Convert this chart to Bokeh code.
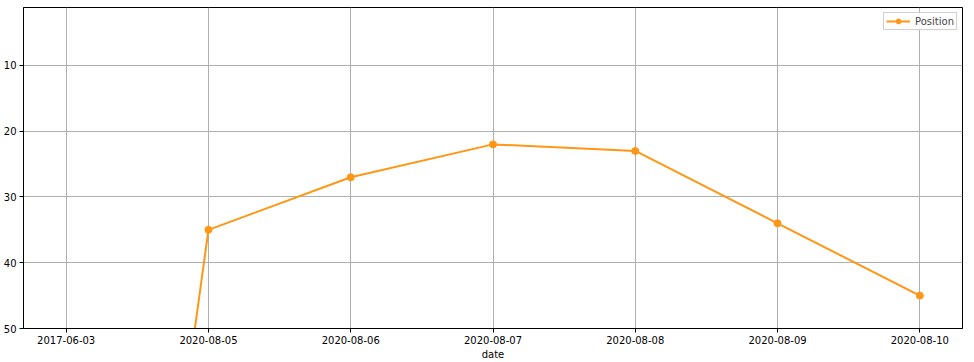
from bokeh.plotting import figure
from bokeh.models import Range1d, FixedTicker, Legend, LegendItem
from bokeh.embed import file_html
from bokeh.resources import INLINE

dates = ["2017-06-03", "2020-08-05", "2020-08-06", "2020-08-07",
         "2020-08-08", "2020-08-09", "2020-08-10"]
positions = [192, 35, 27, 22, 23, 34, 45]
y_ticks = [10, 20, 30, 40, 50]

xs = list(range(len(dates)))
color = "#ff9614"
FONT = "DejaVu Sans"

p = figure(width=974, height=362, output_backend="svg", toolbar_location=None,
           frame_width=939, frame_height=321,
           min_border_left=23, min_border_right=12, min_border_top=7, min_border_bottom=34,
           x_range=Range1d(-0.3, len(dates) - 1 + 0.3),
           y_range=Range1d(50, 1.18))

r_line = p.line(xs, positions, line_color=color, line_width=2)
r_pts = p.scatter(xs, positions, size=7, fill_color=color, line_color=color)

p.background_fill_color = "white"
p.border_fill_color = "white"
p.outline_line_color = "black"
p.outline_line_width = 1

p.xaxis.ticker = FixedTicker(ticks=xs)
p.xaxis.major_label_overrides = {i: d for i, d in enumerate(dates)}
p.yaxis.ticker = FixedTicker(ticks=y_ticks)
p.xaxis.axis_label = "date"

for ax in (p.xaxis, p.yaxis):
    ax.axis_line_color = "black"
    ax.major_tick_line_color = "black"
    ax.major_tick_out = 4
    ax.major_tick_in = 0
    ax.minor_tick_line_color = None
    ax.major_label_text_font = FONT
    ax.major_label_text_font_size = "10px"
    ax.major_label_text_color = "black"
    ax.axis_label_text_font = FONT
    ax.axis_label_text_font_size = "10px"
    ax.axis_label_text_font_style = "normal"
    ax.axis_label_text_color = "black"
    ax.major_label_standoff = 3
p.xaxis.axis_label_standoff = 2

p.grid.grid_line_color = "#b0b0b0"
p.grid.grid_line_width = 1

legend = Legend(items=[LegendItem(label="Position", renderers=[r_line, r_pts])],
                location="top_right")
legend.label_text_font = FONT
legend.label_text_font_size = "10px"
legend.border_line_color = "#d0d0d0"
legend.border_line_alpha = 1
legend.background_fill_alpha = 0.9
legend.margin = 5
legend.padding = 2
legend.spacing = 0
legend.glyph_width = 24
legend.glyph_height = 12
legend.label_standoff = 5
legend.label_height = 12
p.add_layout(legend)

open("out.html", "w").write(file_html(p, INLINE))
